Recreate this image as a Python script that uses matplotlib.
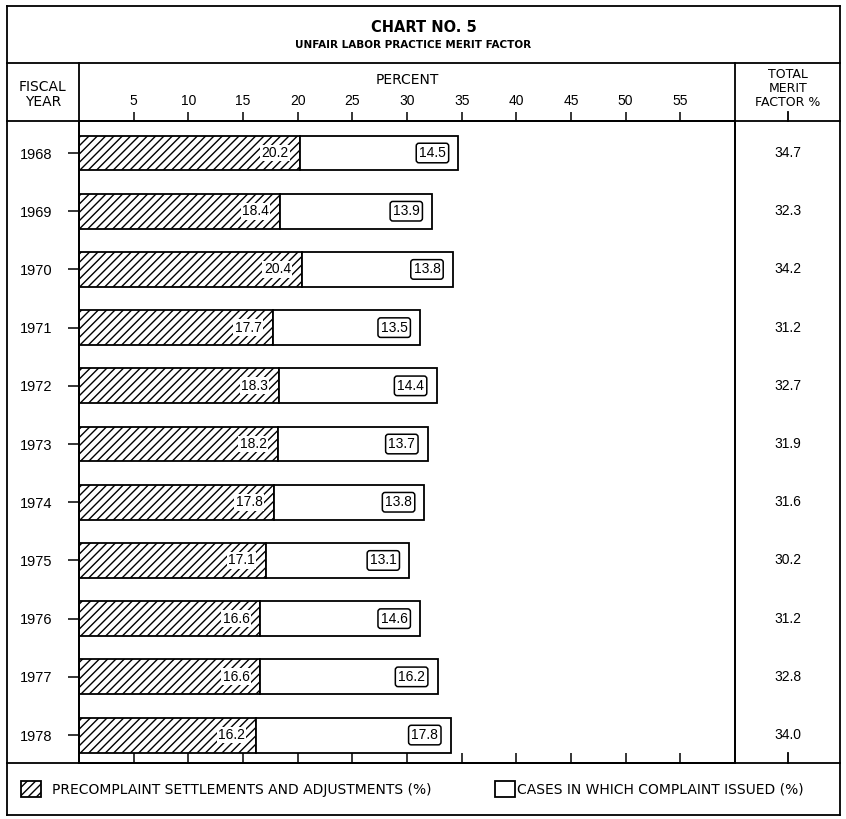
import matplotlib
matplotlib.use('Agg')
import matplotlib.pyplot as plt
from matplotlib.lines import Line2D
from matplotlib.patches import Patch

plt.rcParams['hatch.linewidth'] = 1.0

years = ['1968', '1969', '1970', '1971', '1972', '1973',
         '1974', '1975', '1976', '1977', '1978']
precomplaint = [20.2, 18.4, 20.4, 17.7, 18.3, 18.2, 17.8, 17.1, 16.6, 16.6, 16.2]
complaint = [14.5, 13.9, 13.8, 13.5, 14.4, 13.7, 13.8, 13.1, 14.6, 16.2, 17.8]
total = [34.7, 32.3, 34.2, 31.2, 32.7, 31.9, 31.6, 30.2, 31.2, 32.8, 34.0]
xticks = [5, 10, 15, 20, 25, 30, 35, 40, 45, 50, 55]

num_font = 'Liberation Sans'
lw = 1.3

W, H = 846, 819
fig = plt.figure(figsize=(W / 100, H / 100), dpi=100)

# pixel -> figure fraction
def fx(x):
    return x / W

def fy(y):
    return 1 - y / H

def line(x0, y0, x1, y1):
    fig.add_artist(Line2D([fx(x0), fx(x1)], [fy(y0), fy(y1)],
                          transform=fig.transFigure, color='black', lw=lw))

ax = fig.add_axes([fx(79), fy(763), fx(735) - fx(79), fy(121) - fy(763)])

pos = list(range(len(years)))
ax.barh(pos, precomplaint, height=0.6, color='white', edgecolor='black',
        hatch='////', lw=lw)
ax.barh(pos, complaint, left=precomplaint, height=0.6, color='white',
        edgecolor='black', lw=lw)

for i in pos:
    ax.annotate(f'{precomplaint[i]:.1f}', xy=(precomplaint[i], i),
                xytext=(-8, 0), textcoords='offset points', ha='right',
                va='center', fontsize=10, family=num_font,
                bbox=dict(facecolor='white', edgecolor='none', pad=1))
    ax.annotate(f'{complaint[i]:.1f}', xy=(total[i], i),
                xytext=(-9, 0), textcoords='offset points', ha='right',
                va='center', fontsize=10, family=num_font,
                bbox=dict(boxstyle='round,pad=0.2', facecolor='white',
                          edgecolor='black', lw=1.1))
    ax.text(1.081, i, f'{total[i]:.1f}', transform=ax.get_yaxis_transform(),
            ha='center', va='center', fontsize=10, family=num_font,
            clip_on=False)

ax.set_xlim(0, 60)
ax.set_ylim(10.48, -0.55)

ax.xaxis.tick_top()
ax.set_xticks(xticks)
ax.set_xticklabels([str(t) for t in xticks], family=num_font)
ax.tick_params(axis='x', direction='out', length=6.5, width=1.1, pad=3,
               labelsize=10)

ax.set_yticks(pos)
ax.set_yticklabels(years, family=num_font)
ax.tick_params(axis='y', direction='out', length=8, width=1.1, pad=11,
               labelsize=10.5)

sec = ax.secondary_xaxis('bottom')
sec.set_xticks(xticks)
sec.tick_params(direction='in', length=7, width=1.1, labelbottom=False)
for sp in list(ax.spines.values()) + list(sec.spines.values()):
    sp.set_linewidth(lw)

# frame and dividers
line(7, 6, 840, 6)
line(7, 6, 7, 815)
line(840, 6, 840, 815)
line(7, 815, 840, 815)
line(7, 63, 840, 63)
line(7, 121, 840, 121)
line(7, 763, 840, 763)
line(79, 63, 79, 763)
line(735, 63, 735, 763)
line(788, 112, 788, 121)
line(788, 753, 788, 763)

# header texts
fig.text(fx(424), fy(27), 'CHART NO. 5', ha='center', va='center',
         fontsize=10.5, fontweight='bold')
fig.text(fx(413), fy(45), 'UNFAIR LABOR PRACTICE MERIT FACTOR', ha='center',
         va='center', fontsize=7.5, fontweight='bold')
fig.text(fx(407), fy(80), 'PERCENT', ha='center', va='center', fontsize=10)
fig.text(fx(43), fy(87), 'FISCAL', ha='center', va='center', fontsize=10)
fig.text(fx(43), fy(102), 'YEAR', ha='center', va='center', fontsize=10)
fig.text(fx(788), fy(75), 'TOTAL', ha='center', va='center', fontsize=9)
fig.text(fx(788), fy(88), 'MERIT', ha='center', va='center', fontsize=9)
fig.text(fx(788), fy(102), 'FACTOR %', ha='center', va='center', fontsize=9)

# legend
h1 = Patch(facecolor='white', edgecolor='black', hatch='////', lw=lw)
h2 = Patch(facecolor='white', edgecolor='black', lw=lw)
leg_kw = dict(frameon=False, fontsize=10, handlelength=1.45, handleheight=1.4,
              borderpad=0, borderaxespad=0, loc='center left')
fig.legend([h1], ['PRECOMPLAINT SETTLEMENTS AND ADJUSTMENTS (%)'],
           bbox_to_anchor=(fx(21), fy(789)), handletextpad=0.8, **leg_kw)
fig.legend([h2], ['CASES IN WHICH COMPLAINT ISSUED (%)'],
           bbox_to_anchor=(fx(495), fy(789)), handletextpad=0.15, **leg_kw)

fig.savefig('out.png', dpi=100)
